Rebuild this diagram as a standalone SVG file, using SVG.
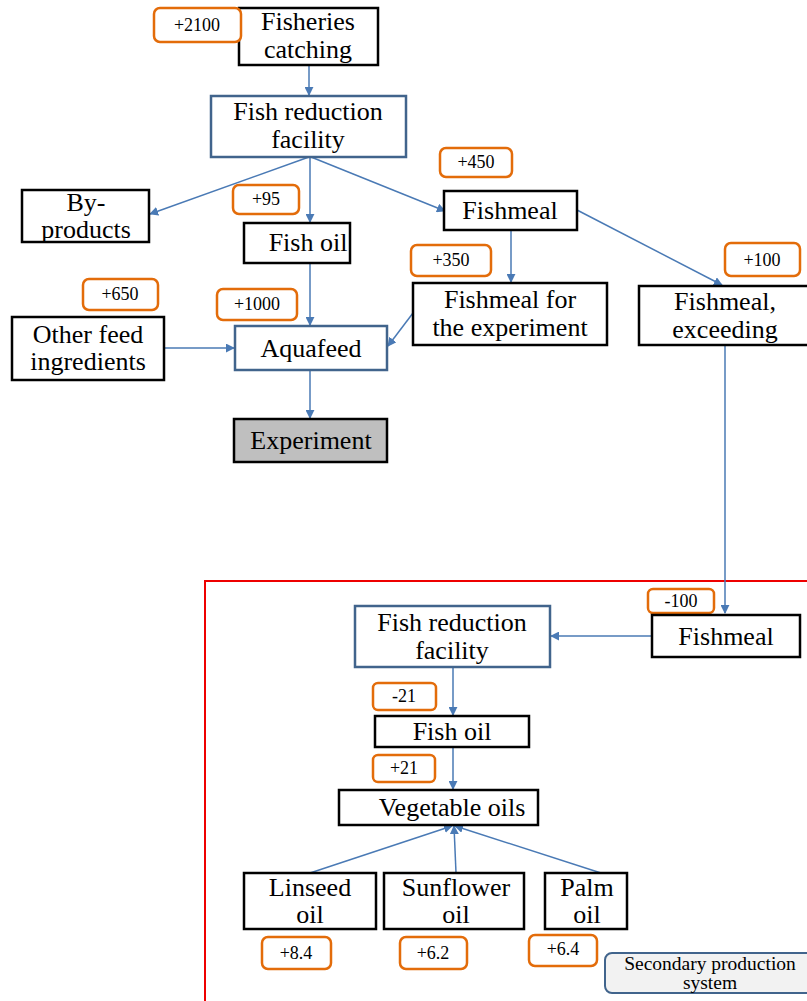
<svg xmlns="http://www.w3.org/2000/svg" width="807" height="1001" viewBox="0 0 807 1001">
<defs>
<marker id="ah" viewBox="0 0 10 10" refX="9" refY="5" markerWidth="9" markerHeight="9" markerUnits="userSpaceOnUse" orient="auto"><path d="M0,0 L10,5 L0,10 z" fill="#4a7ab5"/></marker>
<style>
.nb{fill:#fff;stroke:#000;stroke-width:2.5}
.bb{fill:#fff;stroke:#41648c;stroke-width:2.5}
.bd{fill:#fff;stroke:#e36c0a;stroke-width:2.5}
.t{font-family:"Liberation Serif","Times New Roman",serif;font-size:26px;fill:#000;text-anchor:middle}
.s{font-family:"Liberation Serif","Times New Roman",serif;font-size:18px;fill:#000;text-anchor:middle}
.l{font-family:"Liberation Serif","Times New Roman",serif;font-size:19.5px;fill:#000;text-anchor:middle}
.c{stroke:#4a7ab5;stroke-width:1.5;fill:none;marker-end:url(#ah)}
</style>
</defs>
<rect width="807" height="1001" fill="#fff"/>
<rect x="205" y="581" width="604" height="422" fill="none" stroke="#e00" stroke-width="2"/>
<g id="connectors">
<line class="c" x1="309" y1="65" x2="309" y2="95"/>
<line class="c" x1="309" y1="157" x2="150" y2="214"/>
<line class="c" x1="310" y1="157" x2="310" y2="222"/>
<line class="c" x1="311" y1="157" x2="445" y2="211"/>
<line class="c" x1="511" y1="230" x2="511" y2="282"/>
<line class="c" x1="577" y1="210" x2="722" y2="285"/>
<line class="c" x1="164" y1="348" x2="234" y2="348"/>
<line class="c" x1="310" y1="263" x2="310" y2="325"/>
<line class="c" x1="413" y1="313" x2="388" y2="346"/>
<line class="c" x1="310" y1="370" x2="310" y2="418"/>
<line class="c" x1="725" y1="345" x2="725" y2="613"/>
<line class="c" x1="652" y1="636" x2="551" y2="636"/>
<line class="c" x1="453" y1="667" x2="453" y2="715"/>
<line class="c" x1="453" y1="747" x2="453" y2="789"/>
<line class="c" x1="310" y1="873" x2="452" y2="826"/>
<line class="c" x1="456" y1="873" x2="454" y2="826"/>
<line class="c" x1="601" y1="873" x2="455" y2="826"/>
</g>
<g id="fisheries"><rect class="nb" x="239" y="8" width="139" height="57"/><text class="t" x="308" y="30">Fisheries</text><text class="t" x="308" y="58">catching</text></g>
<g id="b2100"><rect class="bd" x="154" y="8" width="87" height="34" rx="6"/><text class="s" x="197" y="31">+2100</text></g>
<g id="frf1"><rect class="bb" x="211" y="96" width="195" height="61"/><text class="t" x="308" y="120">Fish reduction</text><text class="t" x="308" y="148">facility</text></g>
<g id="byproducts"><rect class="nb" x="22" y="190" width="127" height="52"/><text class="t" x="86" y="211">By-</text><text class="t" x="86" y="238">products</text></g>
<g id="b95"><rect class="bd" x="233" y="185" width="66" height="29" rx="6"/><text class="s" x="266" y="205">+95</text></g>
<g id="fishoil1"><rect class="nb" x="244" y="223" width="106" height="40"/><text class="t" x="308" y="251">Fish oil</text></g>
<g id="b450"><rect class="bd" x="440" y="148" width="72" height="29" rx="6"/><text class="s" x="476" y="168">+450</text></g>
<g id="fishmeal1"><rect class="nb" x="444" y="191" width="133" height="39"/><text class="t" x="510" y="219">Fishmeal</text></g>
<g id="b350"><rect class="bd" x="411" y="245" width="80" height="31" rx="6"/><text class="s" x="451" y="266">+350</text></g>
<g id="fmexp"><rect class="nb" x="413" y="283" width="194" height="62"/><text class="t" x="510" y="308">Fishmeal for</text><text class="t" x="510" y="336">the experiment</text></g>
<g id="b100"><rect class="bd" x="725" y="243" width="75" height="33" rx="6"/><text class="s" x="762" y="266">+100</text></g>
<g id="fmexc"><rect class="nb" x="639" y="286" width="172" height="59"/><text class="t" x="725" y="310">Fishmeal,</text><text class="t" x="725" y="338">exceeding</text></g>
<g id="b650"><rect class="bd" x="83" y="279" width="75" height="31" rx="6"/><text class="s" x="120" y="300">+650</text></g>
<g id="b1000"><rect class="bd" x="217" y="289" width="80" height="31" rx="6"/><text class="s" x="257" y="310">+1000</text></g>
<g id="otherfeed"><rect class="nb" x="12" y="317" width="152" height="63"/><text class="t" x="88" y="343">Other feed</text><text class="t" x="88" y="370">ingredients</text></g>
<g id="aquafeed"><rect class="bb" x="235" y="326" width="152" height="44"/><text class="t" x="311" y="357">Aquafeed</text></g>
<g id="experiment"><rect x="234" y="419" width="153" height="43" fill="#bfbfbf" stroke="#000" stroke-width="2.5"/><text class="t" x="311" y="449">Experiment</text></g>
<g id="bm100"><rect class="bd" x="648" y="589" width="66" height="24" rx="5"/><text class="s" x="681" y="607">-100</text></g>
<g id="fishmeal2"><rect class="nb" x="652" y="615" width="148" height="42"/><text class="t" x="726" y="645">Fishmeal</text></g>
<g id="frf2"><rect class="bb" x="355" y="606" width="195" height="61"/><text class="t" x="452" y="631">Fish reduction</text><text class="t" x="452" y="659">facility</text></g>
<g id="bm21"><rect class="bd" x="373" y="683" width="63" height="27" rx="5"/><text class="s" x="404" y="702">-21</text></g>
<g id="fishoil2"><rect class="nb" x="375" y="716" width="154" height="31"/><text class="t" x="452" y="740">Fish oil</text></g>
<g id="b21"><rect class="bd" x="373" y="755" width="62" height="27" rx="5"/><text class="s" x="404" y="774">+21</text></g>
<g id="vegoils"><rect class="nb" x="339" y="790" width="199" height="35"/><text class="t" x="452" y="816">Vegetable oils</text></g>
<g id="linseed"><rect class="nb" x="244" y="873" width="132" height="56"/><text class="t" x="310" y="896">Linseed</text><text class="t" x="310" y="923">oil</text></g>
<g id="sunflower"><rect class="nb" x="384" y="873" width="140" height="56"/><text class="t" x="456" y="896">Sunflower</text><text class="t" x="456" y="923">oil</text></g>
<g id="palm"><rect class="nb" x="545" y="873" width="82" height="56"/><text class="t" x="587" y="896">Palm</text><text class="t" x="587" y="923">oil</text></g>
<g id="b84"><rect class="bd" x="262" y="937" width="69" height="32" rx="6"/><text class="s" x="296" y="959">+8.4</text></g>
<g id="b62"><rect class="bd" x="400" y="937" width="67" height="32" rx="6"/><text class="s" x="433" y="959">+6.2</text></g>
<g id="b64"><rect class="bd" x="529" y="935" width="68" height="31" rx="6"/><text class="s" x="563" y="955">+6.4</text></g>
<g id="legend"><rect x="605" y="953" width="210" height="40" rx="7" fill="#f2f2f2" stroke="#41648c" stroke-width="2"/><text class="l" x="710" y="970">Secondary production</text><text class="l" x="710" y="989">system</text></g>
</svg>
